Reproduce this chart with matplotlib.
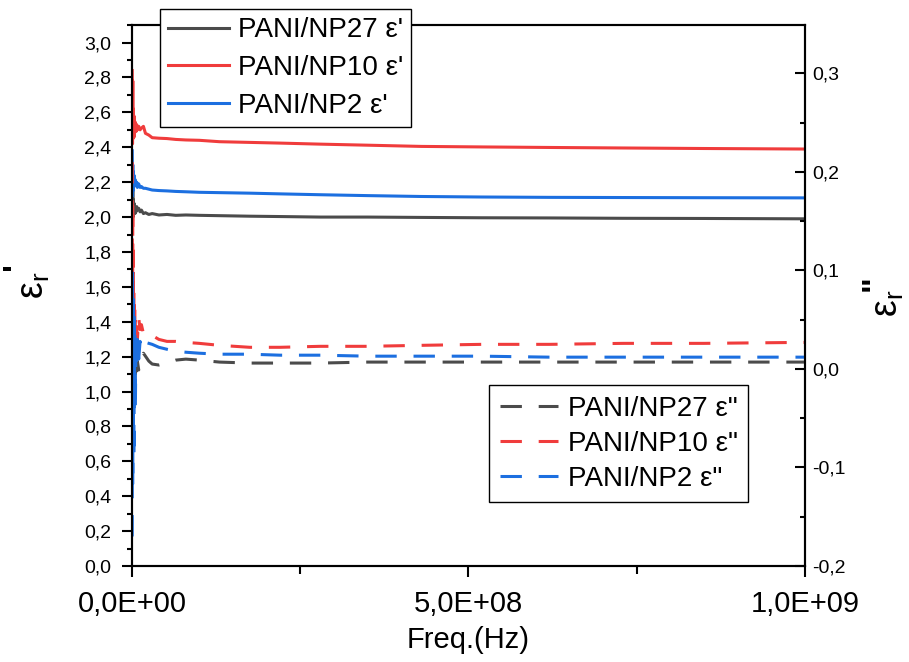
import matplotlib
matplotlib.use('Agg')
import matplotlib.pyplot as plt
from matplotlib.ticker import FixedLocator, MultipleLocator
import numpy as np

# frequency grid (MHz), shared by all six curves
freq_mhz = [0.4, 0.8, 1.2, 1.6, 2.0, 2.5, 3.0, 3.5, 4.0, 4.5, 5.0, 6, 7, 8, 10, 12, 14, 17,
            20, 25, 30, 40, 52, 65, 80, 100, 130, 175, 220, 280, 350, 430, 520, 620, 730, 850, 1000]

# real part eps' (left axis)
eps1_np27 = [2.22, 1.98, 2.15, 2.00, 2.10, 2.02, 2.08, 2.03, 2.06, 2.02, 2.05, 2.03, 2.06, 2.04, 2.05, 2.03, 2.04, 2.02,
             2.025, 2.015, 2.02, 2.012, 2.015, 2.01, 2.012, 2.01, 2.008, 2.005, 2.003, 2.0, 2.0, 1.998, 1.996, 1.995, 1.993, 1.992, 1.99]
eps1_np10 = [2.84, 2.42, 2.78, 2.45, 2.62, 2.48, 2.58, 2.46, 2.55, 2.50, 2.54, 2.49, 2.53, 2.50, 2.52, 2.50, 2.51, 2.52,
             2.48, 2.47, 2.455, 2.452, 2.45, 2.445, 2.442, 2.44, 2.432, 2.428, 2.424, 2.418, 2.412, 2.405, 2.402, 2.399, 2.396, 2.393, 2.39]
eps1_np2 = [2.38, 2.12, 2.30, 2.15, 2.26, 2.17, 2.24, 2.18, 2.22, 2.19, 2.21, 2.18, 2.20, 2.17, 2.19, 2.17, 2.175, 2.165,
            2.165, 2.16, 2.155, 2.152, 2.15, 2.147, 2.145, 2.142, 2.14, 2.137, 2.133, 2.128, 2.123, 2.118, 2.115, 2.113, 2.112, 2.111, 2.11]

# imaginary part eps'' (right axis)
eps2_np27 = [-0.08, 0.03, -0.05, 0.02, -0.03, 0.015, -0.02, 0.01, -0.01, 0.012, -0.005, 0.01, -0.002, 0.008, -0.001, 0.006, 0.01, 0.016,
             0.013, 0.008, 0.005, 0.004, 0.006, 0.009, 0.01, 0.009, 0.007, 0.006, 0.006, 0.006, 0.007, 0.007, 0.007, 0.007, 0.007, 0.007, 0.007]
eps2_np10 = [0.21, -0.06, 0.17, -0.04, 0.12, -0.02, 0.08, 0.0, 0.06, 0.01, 0.05, 0.02, 0.045, 0.03, 0.052, 0.04, 0.045, 0.036,
             0.038, 0.035, 0.034, 0.03, 0.028, 0.028, 0.027, 0.026, 0.024, 0.022, 0.022, 0.023, 0.023, 0.024, 0.025, 0.025, 0.026, 0.026, 0.027]
eps2_np2 = [-0.17, 0.10, -0.12, 0.08, -0.06, 0.05, -0.09, 0.06, -0.03, 0.04, -0.04, 0.035, 0.0, 0.03, 0.01, 0.028, 0.02, 0.026,
            0.027, 0.026, 0.025, 0.022, 0.02, 0.018, 0.017, 0.016, 0.015, 0.015, 0.014, 0.014, 0.013, 0.013, 0.013, 0.012, 0.012, 0.012, 0.012]

labels1 = ["PANI/NP27 ε'", "PANI/NP10 ε'", "PANI/NP2 ε'"]
labels2 = ['PANI/NP27 ε"', 'PANI/NP10 ε"', 'PANI/NP2 ε"']
colors = ['#4b4b4b', '#f03c3c', '#1c6fe0']

x_ticks = [0, 5e8, 1e9]
x_ticklabels = ['0,0E+00', '5,0E+08', '1,0E+09']
left_ticks = [0.0, 0.2, 0.4, 0.6, 0.8, 1.0, 1.2, 1.4, 1.6, 1.8, 2.0, 2.2, 2.4, 2.6, 2.8, 3.0]
left_ticklabels = ['0,0', '0,2', '0,4', '0,6', '0,8', '1,0', '1,2', '1,4', '1,6', '1,8',
                   '2,0', '2,2', '2,4', '2,6', '2,8', '3,0']
right_ticks = [-0.2, -0.1, 0.0, 0.1, 0.2, 0.3]
right_ticklabels = ['-0,2', '-0,1', '0,0', '0,1', '0,2', '0,3']

base_font = 'Liberation Sans'
plt.rcParams['font.family'] = [base_font, 'DejaVu Sans']
plt.rcParams['mathtext.fontset'] = 'custom'
plt.rcParams['mathtext.rm'] = base_font
plt.rcParams['mathtext.it'] = base_font

freq = np.array(freq_mhz) * 1e6

fig = plt.figure(figsize=(9.09, 6.62), dpi=100)
ax = fig.add_axes([0.1452, 0.145, 0.7404, 0.817])
ax2 = ax.twinx()

lw = 2.2
h1 = []
for vals, c, lab in zip([eps1_np27, eps1_np10, eps1_np2], colors, labels1):
    l, = ax.plot(freq, vals, color=c, lw=lw, label=lab)
    h1.append(l)
h2 = []
for vals, c, lab in zip([eps2_np27, eps2_np10, eps2_np2], colors, labels2):
    l, = ax2.plot(freq, vals, color=c, lw=lw, ls=(0, (7, 5.5)), label=lab)
    h2.append(l)

ax.set_xlim(0, 1e9)
ax.set_ylim(0, 3.1)
ax2.set_ylim(-0.2, 0.349)

ax.xaxis.set_major_locator(FixedLocator(x_ticks))
ax.set_xticklabels(x_ticklabels, fontsize=21)
ax.xaxis.set_minor_locator(FixedLocator([2.5e8, 7.5e8]))
ax.yaxis.set_major_locator(FixedLocator(left_ticks))
ax.set_yticklabels(left_ticklabels, fontsize=14)
ax.yaxis.set_minor_locator(MultipleLocator(0.1))
ax2.yaxis.set_major_locator(FixedLocator(right_ticks))
ax2.set_yticklabels(right_ticklabels, fontsize=14)
ax2.yaxis.set_minor_locator(MultipleLocator(0.05))

for a in (ax, ax2):
    for s in a.spines.values():
        s.set_linewidth(1.5)
ax.tick_params(which='major', direction='out', length=7, width=1.5, pad=8)
ax.tick_params(which='minor', direction='out', length=3.6, width=1.5)
ax.tick_params(axis='x', which='major', length=8, pad=9)
ax.tick_params(axis='x', which='minor', length=6)
ax2.tick_params(which='major', direction='in', length=7, width=1.5, pad=5)
ax2.tick_params(which='minor', direction='in', length=3.6, width=1.5)

ax.set_xlabel('Freq.(Hz)', fontsize=21, labelpad=6)

# axis titles: eps with subscript r, primes as separate plain marks
ax.set_ylabel(r"$\mathregular{ε_r}$", fontsize=27, ha='center', va='center')
ax.yaxis.set_label_coords(-0.1456, 0.519)
ax.text(-0.172, 0.555, "'", transform=ax.transAxes, rotation=90, fontsize=24,
        fontweight='bold', ha='center', va='center')
ax2.set_ylabel(r"$\mathregular{ε_r}$", fontsize=27, rotation=90, ha='center', va='center')
ax2.yaxis.set_label_coords(1.1233, 0.486)
ax2.text(1.104, 0.523, '"', transform=ax2.transAxes, rotation=90, fontsize=24,
         fontweight='bold', ha='center', va='center')

leg1 = ax2.legend(handles=h1, loc='upper left', bbox_to_anchor=(0.0416, 1.0296), borderaxespad=0,
                  fontsize=20, handlelength=2.2, handletextpad=0.3, labelspacing=0.42,
                  fancybox=False, edgecolor='black', framealpha=1, borderpad=0.3)
leg1.get_frame().set_linewidth(1.0)
ax2.add_artist(leg1)
leg2 = ax2.legend(handles=h2, loc='upper left', bbox_to_anchor=(0.5305, 0.3346), borderaxespad=0,
                  fontsize=20, handlelength=2.1, handletextpad=0.35, labelspacing=0.33,
                  fancybox=False, edgecolor='black', framealpha=1, borderpad=0.38)
leg2.get_frame().set_linewidth(1.0)

fig.savefig('out.png', dpi=100)
